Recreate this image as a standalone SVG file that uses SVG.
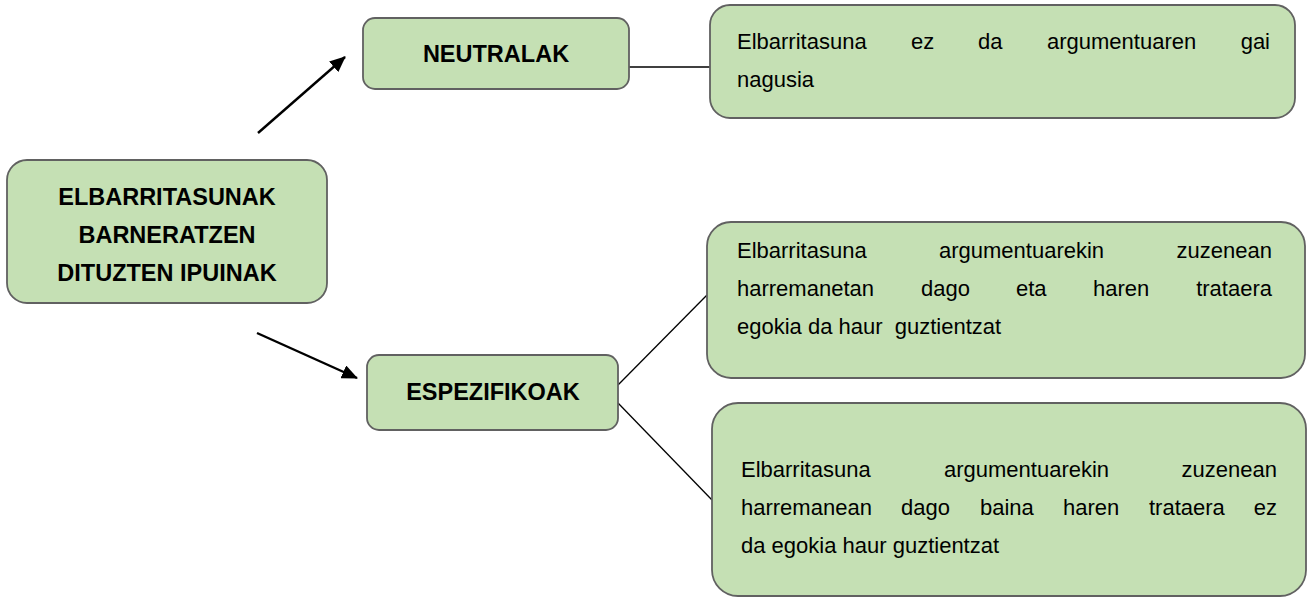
<svg xmlns="http://www.w3.org/2000/svg" width="1308" height="598" viewBox="0 0 1308 598">
<defs>
<style>
.box{fill:#c5e0b4;stroke:#616161;stroke-width:1.8}
.title{font-family:"Liberation Sans",Arial,sans-serif;font-weight:bold;font-size:23.5px;fill:#000;text-anchor:middle}
.body{font-family:"Liberation Sans",Arial,sans-serif;font-size:22px;fill:#000}
.end{text-anchor:end}
.conn{stroke:#000;stroke-width:1.3;fill:none}
.arrow{stroke:#000;stroke-width:2.4;fill:none}
</style>
<marker id="ah" markerWidth="16" markerHeight="14" refX="15" refY="7" orient="auto" markerUnits="userSpaceOnUse" viewBox="0 0 16 14">
<path d="M0,0 L16,7 L0,14 Z" fill="#000"/>
</marker>
</defs>
<rect width="1308" height="598" fill="#fff"/>
<g id="connectors">
<line class="arrow" x1="258" y1="133" x2="345" y2="57" marker-end="url(#ah)"/>
<line class="arrow" x1="257" y1="333" x2="357" y2="378" marker-end="url(#ah)"/>
<line class="conn" x1="629" y1="67" x2="710" y2="67"/>
<line class="conn" x1="618" y1="385" x2="707" y2="295"/>
<line class="conn" x1="618" y1="403" x2="712" y2="500"/>
</g>
<g id="root">
<rect class="box" x="7" y="160" width="320" height="143" rx="20"/>
<text class="title" x="167" y="205">ELBARRITASUNAK</text>
<text class="title" x="167" y="243">BARNERATZEN</text>
<text class="title" x="167" y="281">DITUZTEN IPUINAK</text>
</g>
<g id="neutralak">
<rect class="box" x="363" y="18" width="266" height="71" rx="12"/>
<text class="title" x="496" y="62">NEUTRALAK</text>
</g>
<g id="espezifikoak">
<rect class="box" x="367" y="355" width="251" height="75" rx="12"/>
<text class="title" x="493" y="400">ESPEZIFIKOAK</text>
</g>
<g id="desc-neutral">
<rect class="box" x="710" y="5" width="585" height="113" rx="20"/>
<text class="body" y="49"><tspan x="737">Elbarritasuna</tspan><tspan x="911">ez</tspan><tspan x="978">da</tspan><tspan x="1047">argumentuaren</tspan></text>
<text class="body end" x="1270" y="49">gai</text>
<text class="body" x="737" y="87">nagusia</text>
</g>
<g id="desc-espez-1">
<rect class="box" x="707" y="222" width="598" height="156" rx="24"/>
<text class="body" y="258"><tspan x="737">Elbarritasuna</tspan><tspan x="939">argumentuarekin</tspan></text>
<text class="body end" x="1272" y="258">zuzenean</text>
<text class="body" y="296"><tspan x="737">harremanetan</tspan><tspan x="921">dago</tspan><tspan x="1016">eta</tspan><tspan x="1093">haren</tspan></text>
<text class="body end" x="1272" y="296">trataera</text>
<text class="body" x="737" y="334" style="white-space:pre">egokia da haur  guztientzat</text>
</g>
<g id="desc-espez-2">
<rect class="box" x="712" y="403" width="594" height="193" rx="26"/>
<text class="body" y="477"><tspan x="741">Elbarritasuna</tspan><tspan x="944">argumentuarekin</tspan></text>
<text class="body end" x="1277" y="477">zuzenean</text>
<text class="body" y="515"><tspan x="741">harremanean</tspan><tspan x="901">dago</tspan><tspan x="980">baina</tspan><tspan x="1063">haren</tspan><tspan x="1149">trataera</tspan></text>
<text class="body end" x="1277" y="515">ez</text>
<text class="body" x="741" y="553">da egokia haur guztientzat</text>
</g>
</svg>
